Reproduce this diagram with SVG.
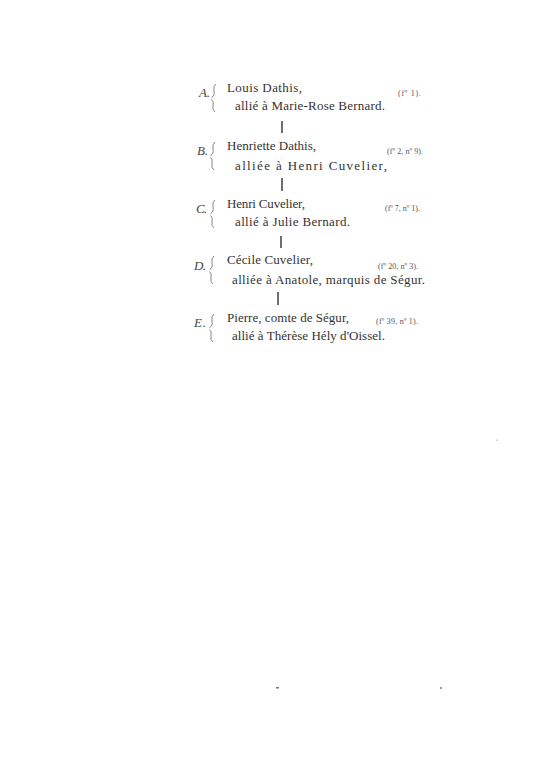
<svg xmlns="http://www.w3.org/2000/svg" width="558" height="768" viewBox="0 0 558 768">
<style>
.t{font-family:"Liberation Serif","Times New Roman",serif;font-size:13px;fill:#333}
.l{font-family:"Liberation Serif","Times New Roman",serif;font-size:13px;font-style:italic;fill:#444}
.r{font-family:"Liberation Serif","Times New Roman",serif;font-size:8px;fill:#555}
.b{fill:none;stroke:#666;stroke-width:0.8}
.c{stroke:#333;stroke-width:1.4}
</style>
<rect width="558" height="768" fill="#fff"/>
<defs>
<path id="br" class="b" d="M3,0 Q0,2 1,7 Q2,12 -1.5,13.5 M-1.5,15.5 Q1,17 0,22 Q-1,26 2,28"/>
</defs>
<g id="nodeA">
<text class="l" x="199" y="97" textLength="11">A.</text>
<use href="#br" x="213" y="84"/>
<text class="t" x="227" y="92" textLength="75" lengthAdjust="spacing">Louis Dathis,</text>
<text class="r" x="398" y="96" textLength="23" lengthAdjust="spacing">(fº 1).</text>
<text class="t" x="235" y="110" textLength="150" lengthAdjust="spacing">allié à Marie-Rose Bernard.</text>
</g>
<g id="nodeB">
<text class="l" x="197" y="155" textLength="11">B.</text>
<use href="#br" x="212" y="142"/>
<text class="t" x="227" y="150" textLength="89" lengthAdjust="spacing">Henriette Dathis,</text>
<text class="r" x="387" y="154" textLength="36" lengthAdjust="spacing">(fº 2, nº 9).</text>
<text class="t" x="235" y="170" textLength="152" lengthAdjust="spacing">alliée à Henri Cuvelier,</text>
</g>
<g id="nodeC">
<text class="l" x="196" y="213" textLength="11">C.</text>
<use href="#br" x="212" y="200"/>
<text class="t" x="227" y="208" textLength="78" lengthAdjust="spacing">Henri Cuvelier,</text>
<text class="r" x="385" y="211" textLength="35" lengthAdjust="spacing">(fº 7, nº 1).</text>
<text class="t" x="235" y="226" textLength="115" lengthAdjust="spacing">allié à Julie Bernard.</text>
</g>
<g id="nodeD">
<text class="l" x="194" y="270" textLength="12">D.</text>
<use href="#br" x="211" y="256"/>
<text class="t" x="227" y="264" textLength="86" lengthAdjust="spacing">Cécile Cuvelier,</text>
<text class="r" x="378" y="269" textLength="40" lengthAdjust="spacing">(fº 20, nº 3).</text>
<text class="t" x="232" y="284" textLength="193" lengthAdjust="spacing">alliée à Anatole, marquis de Ségur.</text>
</g>
<g id="nodeE">
<text class="l" x="194" y="327" textLength="12">E.</text>
<use href="#br" x="211" y="314"/>
<text class="t" x="227" y="322" textLength="122" lengthAdjust="spacing">Pierre, comte de Ségur,</text>
<text class="r" x="376" y="324" textLength="42" lengthAdjust="spacing">(fº 39, nº 1).</text>
<text class="t" x="232" y="340" textLength="153" lengthAdjust="spacing">allié à Thérèse Hély d'Oissel.</text>
</g>
<g id="connectors">
<line class="c" x1="282" y1="121" x2="282" y2="133"/>
<line class="c" x1="282" y1="178" x2="282" y2="191"/>
<line class="c" x1="281" y1="236" x2="281" y2="248"/>
<line class="c" x1="278" y1="292" x2="278" y2="305"/>
</g>
<g id="specks" fill="#777">
<rect x="276" y="687" width="3" height="1.5"/>
<circle cx="441" cy="688" r="1"/>
<circle cx="497" cy="440" r="0.6"/>
</g>
</svg>
